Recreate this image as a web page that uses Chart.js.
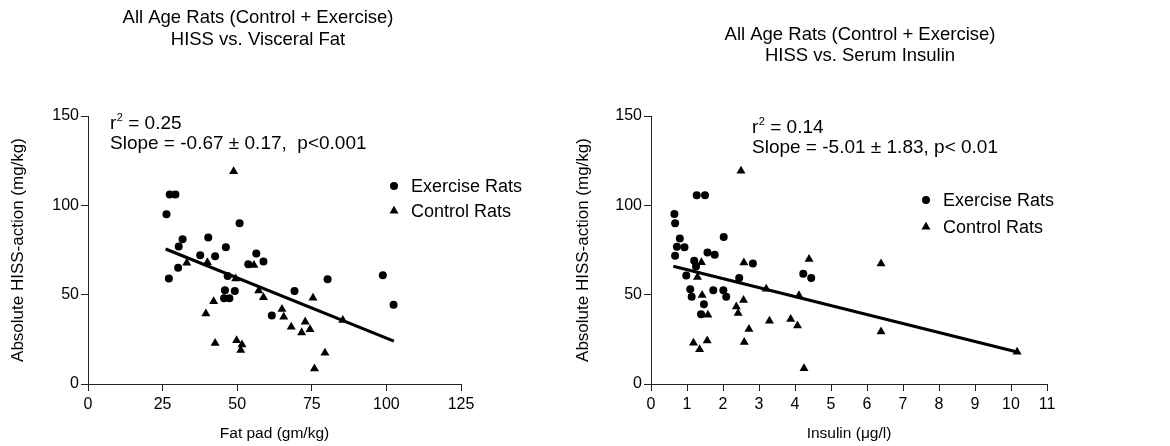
<!DOCTYPE html>
<html>
<head>
<meta charset="utf-8">
<script src="https://cdn.jsdelivr.net/npm/chart.js@4.4.1/dist/chart.umd.min.js"></script>
<style>
  html, body { margin: 0; padding: 0; background: #fff; }
  #wrap { position: relative; width: 1170px; height: 446px; }
  .panel { position: absolute; top: 0; height: 446px; }
</style>
</head>
<body>
<div id="wrap">
  <div class="panel" style="left:0;width:560px"><canvas id="fatChart"></canvas></div>
  <div class="panel" style="left:560px;width:610px"><canvas id="insChart"></canvas></div>
</div>
<script>
// left panel: HISS vs visceral fat
const fatExX = [27.4, 29.3, 26.3, 50.8, 40.3, 31.7, 30.4, 46.2, 56.4, 37.6, 42.6, 53.7, 58.8, 30.2, 27.1, 46.8, 45.9, 49.2, 45.6, 47.4, 80.3, 98.8, 102.4, 69.2, 61.6];
const fatExY = [106, 106, 95, 90, 82, 81, 77, 76.5, 73, 72, 71.5, 67, 68.5, 65, 59, 60.5, 52.5, 52, 48, 48, 58.6, 60.8, 44.3, 52, 38.3];
const fatCoX = [48.8, 33.1, 40, 55.6, 49.5, 42.1, 39.5, 57.2, 58.8, 75.4, 65, 65.6, 68.1, 72.8, 71.6, 74.4, 85.4, 79.4, 75.9, 42.6, 49.8, 51.6, 51.2];
const fatCoY = [119, 67.8, 68, 66.5, 59, 46.2, 39.4, 52.2, 48.5, 48.2, 41.9, 37.5, 32, 34.8, 28.8, 30.6, 35.7, 17.4, 8.6, 22.9, 24.4, 22, 18.9];
const fatFitX = [26, 102.5];
const fatFitY = [75.5, 24];

// right panel: HISS vs serum insulin
const insExX = [0.65, 0.67, 0.8, 0.72, 0.93, 0.67, 1.27, 1.5, 2.02, 1.57, 1.77, 1.2, 1.25, 0.98, 2.83, 2.45, 4.23, 4.45, 1.09, 1.13, 1.73, 2.01, 2.09, 1.47, 1.39];
const insExY = [95.2, 90, 81.4, 76.8, 76.6, 71.8, 105.7, 105.7, 82.3, 73.6, 72.3, 69, 65.7, 60.7, 67.4, 59.3, 61.7, 59.3, 53, 48.8, 52.5, 52.5, 48.8, 44.7, 39];
const insCoX = [2.5, 1.4, 1.29, 2.58, 4.39, 6.39, 1.42, 3.2, 4.11, 2.57, 2.37, 2.42, 1.58, 3.29, 3.88, 4.07, 2.72, 6.39, 1.56, 2.59, 1.18, 1.35, 4.25, 10.17];
const insCoY = [119.3, 68.1, 59.8, 67.9, 69.9, 67.4, 49.7, 53.2, 49.5, 46.9, 43.3, 39.6, 38.7, 35.3, 36.3, 32.6, 30.7, 29.3, 24.3, 23.4, 23, 19.3, 8.7, 18];
const insFitX = [0.62, 10.17];
const insFitY = [65.9, 17.9];

const FONT = '"Liberation Sans", Arial, sans-serif';

function pts(xs, ys) {
    return xs.map((x, i) => ({ x: x, y: ys[i] }));
}

// titles, r² note and legend drawn on top of the chart
const panelText = {
    id: 'panelText',
    afterDraw(chart, args, o) {
        const ctx = chart.ctx;
        ctx.save();
        ctx.fillStyle = '#000';
        ctx.textAlign = 'center';
        ctx.textBaseline = 'middle';
        ctx.font = '18.5px ' + FONT;
        o.title.forEach((t, i) => ctx.fillText(t, o.titleX, o.titleY[i]));

        ctx.textAlign = 'left';
        ctx.textBaseline = 'alphabetic';
        ctx.font = '19px ' + FONT;
        ctx.fillText('r', o.noteX, o.noteY[0]);
        const wr = ctx.measureText('r').width;
        ctx.font = '11px ' + FONT;
        ctx.fillText('2', o.noteX + wr + 0.5, o.noteY[0] - 8);
        const w2 = ctx.measureText('2').width;
        ctx.font = '19px ' + FONT;
        ctx.fillText(' = ' + o.r2, o.noteX + wr + w2 + 0.5, o.noteY[0]);
        ctx.fillText(o.slope, o.noteX, o.noteY[1]);

        ctx.textBaseline = 'middle';
        ctx.font = '18px ' + FONT;
        for (let i = 0; i < 2; i++) {
            const y = o.legendY[i];
            const ds = chart.data.datasets[i];
            ctx.beginPath();
            if (ds.pointStyle === 'circle') {
                ctx.arc(o.legendX, y, ds.pointRadius, 0, Math.PI * 2);
            } else {
                const r = ds.pointRadius;
                ctx.moveTo(o.legendX, y - r);
                ctx.lineTo(o.legendX + r * 0.866, y + r * 0.5);
                ctx.lineTo(o.legendX - r * 0.866, y + r * 0.5);
                ctx.closePath();
            }
            ctx.fill();
            ctx.fillText(ds.label, o.legendX + 17, y + 1);
        }
        ctx.restore();
    }
};

function makePanel(id, cfg) {
    const tickFont = { family: FONT, size: 16 };
    return new Chart(id, {
        type: 'scatter',
        data: {
            datasets: [{
                label: 'Exercise Rats',
                data: pts(cfg.exX, cfg.exY),
                pointStyle: 'circle',
                pointRadius: 4,
                backgroundColor: '#000',
                borderWidth: 0
            }, {
                label: 'Control Rats',
                data: pts(cfg.coX, cfg.coY),
                pointStyle: 'triangle',
                pointRadius: 5.2,
                backgroundColor: '#000',
                borderWidth: 0
            }, {
                label: 'fit',
                data: pts(cfg.fitX, cfg.fitY),
                showLine: true,
                pointRadius: 0,
                borderColor: '#000',
                borderWidth: 3.2
            }]
        },
        options: {
            responsive: true,
            maintainAspectRatio: false,
            animation: false,
            layout: { padding: cfg.pad },
            plugins: {
                legend: { display: false },
                tooltip: { enabled: false },
                panelText: cfg.text
            },
            scales: {
                x: {
                    type: 'linear',
                    min: cfg.xMin, max: cfg.xMax,
                    ticks: { stepSize: cfg.xStep, color: '#000', font: tickFont, padding: 4, maxRotation: 0 },
                    grid: { drawOnChartArea: false, drawTicks: true, tickLength: 7, color: '#222' },
                    border: { color: '#222', width: 1 },
                    title: { display: true, text: cfg.xTitle, color: '#000', font: { family: FONT, size: 15.5 }, padding: { top: 0, bottom: 3 } },
                    afterFit: s => { s.height = cfg.xH; }
                },
                y: {
                    min: 0, max: 150,
                    ticks: { stepSize: 50, color: '#000', font: tickFont, padding: 2 },
                    grid: { drawOnChartArea: false, drawTicks: true, tickLength: 7, color: '#222' },
                    border: { color: '#222', width: 1 },
                    title: { display: true, text: 'Absolute HISS-action (mg/kg)', color: '#000', font: { family: FONT, size: 17 }, padding: { top: cfg.yTitlePad, bottom: 0 } },
                    afterFit: s => { s.width = cfg.yW; }
                }
            }
        },
        plugins: [panelText]
    });
}

makePanel('fatChart', {
    exX: fatExX, exY: fatExY, coX: fatCoX, coY: fatCoY, fitX: fatFitX, fitY: fatFitY,
    xMin: 0, xMax: 125, xStep: 25, xTitle: 'Fat pad (gm/kg)',
    pad: { left: 0, right: 99, top: 116, bottom: 0 }, yW: 88, xH: 62, yTitlePad: 8,
    text: {
        title: ['All Age Rats (Control + Exercise)', 'HISS vs. Visceral Fat'],
        titleX: 258, titleY: [18, 40],
        noteX: 110, noteY: [129, 149],
        r2: '0.25', slope: 'Slope = -0.67 \u00b1 0.17,  p<0.001',
        legendX: 394, legendY: [186, 211]
    }
});

makePanel('insChart', {
    exX: insExX, exY: insExY, coX: insCoX, coY: insCoY, fitX: insFitX, fitY: insFitY,
    xMin: 0, xMax: 11, xStep: 1, xTitle: 'Insulin (\u03bcg/l)',
    pad: { left: 0, right: 123, top: 116, bottom: 0 }, yW: 91, xH: 62, yTitlePad: 13,
    text: {
        title: ['All Age Rats (Control + Exercise)', 'HISS vs. Serum Insulin'],
        titleX: 300, titleY: [35, 56],
        noteX: 192, noteY: [133, 153],
        r2: '0.14', slope: 'Slope = -5.01 \u00b1 1.83, p< 0.01',
        legendX: 366, legendY: [200, 227]
    }
});
</script>
</body>
</html>
